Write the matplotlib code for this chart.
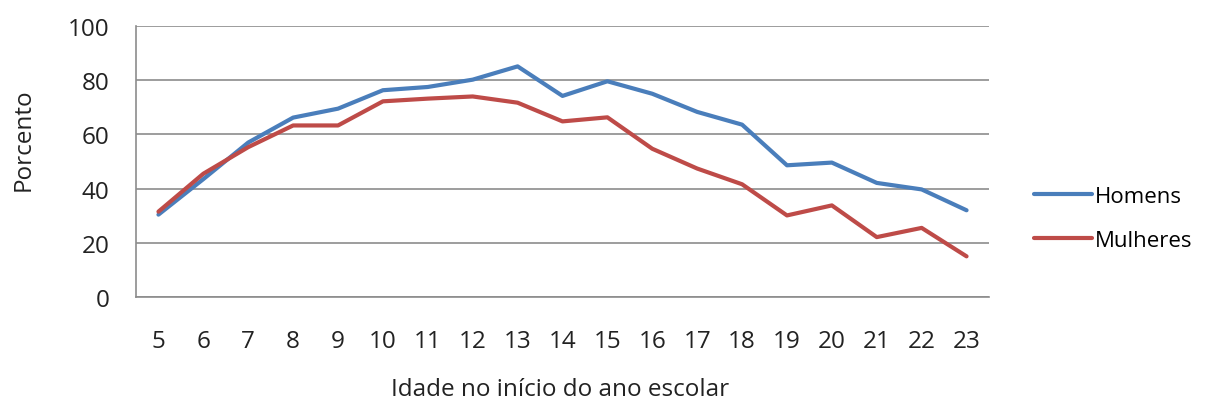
import matplotlib.pyplot as plt

plt.rcParams['font.family'] = ['Open Sans', 'DejaVu Sans']

idade = [5, 6, 7, 8, 9, 10, 11, 12, 13, 14, 15, 16, 17, 18, 19, 20, 21, 22, 23]
homens = [30.4, 43.5, 57, 66.2, 69.5, 76.3, 77.5, 80.2, 85.1, 74.2, 79.6, 75, 68.3, 63.6, 48.6, 49.6, 42.1, 39.7, 32]
mulheres = [31.5, 45.5, 55.3, 63.3, 63.3, 72.2, 73.2, 74, 71.7, 64.8, 66.3, 54.7, 47.4, 41.6, 30.1, 33.8, 22.1, 25.5, 15]

fig = plt.figure(figsize=(12.05, 4.02), dpi=100)
ax = fig.add_axes([136/1205, 1 - 298/402, (989 - 136)/1205, (298 - 27)/402])

ax.plot(idade, homens, color='#4A7EBB', lw=3, label='Homens', solid_capstyle='round')
ax.plot(idade, mulheres, color='#BE4B48', lw=3, label='Mulheres', solid_capstyle='round')

ax.set_xlim(4.5, 23.5)
ax.set_ylim(0, 100)
ax.set_xticks(idade)
ax.set_yticks(range(0, 101, 20))
ax.yaxis.grid(True, color='#8c8c8c', lw=1.2)
ax.set_axisbelow(True)
for s in ['top', 'right']:
    ax.spines[s].set_visible(False)
for s in ['left', 'bottom']:
    ax.spines[s].set_color('#8c8c8c')
    ax.spines[s].set_linewidth(1.2)
ax.tick_params(axis='both', length=0, labelsize=17.5, colors='#222222')
ax.tick_params(axis='x', pad=23)
ax.tick_params(axis='y', pad=19)

fig.text(24/1205, 1 - 140/402, 'Porcento', rotation=90, ha='center', va='center', fontsize=17.5, color='#222222')
fig.text(560/1205, 1 - 390/402, 'Idade no início do ano escolar', ha='center', va='center', fontsize=17.5, color='#222222')

ax.legend(loc='center left', bbox_to_anchor=((1034 - 136)/853, 0.29), frameon=False, fontsize=16,
          handlelength=2.6, handletextpad=0.15, labelspacing=1.05, borderpad=0, borderaxespad=0)

fig.savefig('out.png', dpi=100)
